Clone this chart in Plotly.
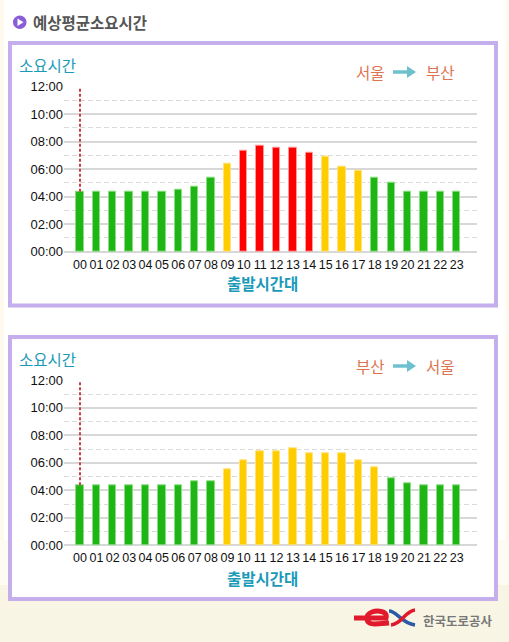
import plotly.graph_objects as go

W, H = 509, 642

hour_labels = [f"{h:02d}" for h in range(24)]
y_ticks = [0, 2, 4, 6, 8, 10, 12]
y_tick_labels = ["00:00", "02:00", "04:00", "06:00", "08:00", "10:00", "12:00"]
y_minor = [1, 3, 5, 7, 9, 11]

seoul_busan = [4.36, 4.36, 4.36, 4.36, 4.36, 4.36, 4.53, 4.70, 5.36, 6.38, 7.38, 7.68,
               7.54, 7.54, 7.20, 6.88, 6.20, 5.87, 5.36, 5.04, 4.36, 4.36, 4.36, 4.36]
busan_seoul = [4.36, 4.36, 4.36, 4.36, 4.36, 4.36, 4.36, 4.68, 4.68, 5.52, 6.20, 6.86,
               6.86, 7.03, 6.68, 6.68, 6.68, 6.20, 5.69, 4.87, 4.53, 4.36, 4.36, 4.36]

GREEN, YELLOW, RED = "#1fb514", "#ffcc00", "#ff0000"
EDGE = {GREEN: "#86e07e", YELLOW: "#ffe27a", RED: "#ff9a9a"}
PURPLE = "#c4aeeb"
TEAL = "#1b9ab8"
ORANGE = "#dd7350"
GRID = "#d8d8d8"
KR = "Noto Sans CJK KR"
LATIN = "Liberation Sans"


def level(v):
    return GREEN if v < 5.4 else YELLOW if v < 7.1 else RED


def px(x):
    return x / W


def py(y):
    return 1 - y / H


def path(points_cmds):
    # Builds an SVG path in paper units from (command, x, y, ...) tuples in page pixels
    out = []
    for cmd, *vals in points_cmds:
        pairs = [f"{px(vals[i]):.5f},{py(vals[i + 1]):.5f}" for i in range(0, len(vals), 2)]
        out.append(cmd + " " + " ".join(pairs))
    return " ".join(out)


def band(x0, y0, x1, y1, color):
    return dict(type="rect", xref="paper", yref="paper", x0=px(x0), x1=px(x1), y0=py(y0), y1=py(y1),
                fillcolor=color, line_width=0, layer="below")


def panel(top, bottom):
    return dict(type="rect", xref="paper", yref="paper", x0=px(10), x1=px(496), y0=py(top), y1=py(bottom),
                fillcolor="white", line=dict(color=PURPLE, width=4), layer="below")


def label(x, y, text, size, color, anchor="center", family=KR):
    return dict(xref="paper", yref="paper", x=px(x), y=py(y), text=text, showarrow=False, xanchor=anchor,
                yanchor="middle", font=dict(family=family, size=size, color=color))


def arrow(y):
    return [
        dict(type="line", xref="paper", yref="paper", x0=px(393), x1=px(410), y0=py(y), y1=py(y),
             line=dict(color="#6fc0cf", width=3.5)),
        dict(type="path", xref="paper", yref="paper", fillcolor="#6fc0cf", line_width=0,
             path=path([("M", 407, y - 6), ("L", 416, y), ("L", 407, y + 6)]) + " Z"),
    ]


fig = go.Figure()

charts = [
    dict(values=seoul_busan, x="x", y="y", top=86.7, bottom=251.7),
    dict(values=busan_seoul, x="x2", y="y2", top=380.3, bottom=545.3),
]

for chart in charts:
    colors = [level(v) for v in chart["values"]]
    fig.add_trace(go.Bar(
        x=list(range(24)), y=chart["values"], xaxis=chart["x"], yaxis=chart["y"], width=0.45,
        marker=dict(color=colors, line=dict(color=[EDGE[c] for c in colors], width=1)),
        showlegend=False,
    ))
    # Red dotted marker rising from the first bar to the top of the scale
    fig.add_trace(go.Scatter(
        x=[0, 0], y=[chart["values"][0], 12], xaxis=chart["x"], yaxis=chart["y"], mode="lines",
        line=dict(color="#cc3f4a", width=2, dash="3px,2px"), showlegend=False,
    ))

layout_axes = {}
for suffix, chart in zip(["", "2"], charts):
    y_name = "y" + suffix
    layout_axes["xaxis" + suffix] = dict(
        domain=[px(64), px(477)], range=[-0.977, 24.24], anchor=y_name, tickmode="array",
        tickvals=list(range(24)), ticktext=hour_labels, showgrid=False, zeroline=False,
        showline=False, ticks="outside", ticklen=1, tickcolor="rgba(0,0,0,0)", tickangle=0,
        tickfont=dict(family=LATIN, size=12.5, color="#111111"),
    )
    layout_axes["yaxis" + suffix] = dict(
        domain=[py(chart["bottom"]), py(chart["top"])], range=[0, 12], anchor="x" + suffix,
        tickmode="array", tickvals=y_ticks, ticktext=y_tick_labels, showline=False,
        zeroline=True, zerolinecolor=GRID, zerolinewidth=1.5,
        showgrid=True, gridcolor=GRID, gridwidth=1.5, ticks="",
        tickfont=dict(family=LATIN, size=13, color="#111111"),
        minor=dict(tickmode="array", tickvals=y_minor, showgrid=True, gridcolor="#dadada",
                   griddash="5px,3px", gridwidth=1, ticks=""),
    )

shapes = [
    band(0, 0, 4, 642, "#fdf9ec"),
    band(505, 0, 509, 642, "#fdfaf0"),
    band(0, 540, 509, 585, "#fdfbf2"),
    band(0, 585, 509, 642, "#f8f5e4"),
    panel(43, 305.5),
    panel(337, 599),
    # Heading bullet
    dict(type="circle", xref="paper", yref="paper", x0=px(13), x1=px(26.5), y0=py(15.5), y1=py(29),
         fillcolor="#8a5cd8", line_width=0),
    dict(type="path", xref="paper", yref="paper", fillcolor="white", line_width=0,
         path=path([("M", 17.5, 18.5), ("L", 23.5, 22.2), ("L", 17.5, 26)]) + " Z"),
    # Corporate mark
    dict(type="path", xref="paper", yref="paper", line=dict(color="#e01a2c", width=5), fillcolor="rgba(0,0,0,0)",
         path=path([("M", 354, 618), ("L", 386, 618), ("C", 388, 610, 376, 610.5, 372, 612),
                    ("C", 364, 615, 365, 624, 375, 624), ("L", 389, 623)])),
    dict(type="path", xref="paper", yref="paper", line=dict(color="#2a5aa8", width=3.5), fillcolor="rgba(0,0,0,0)",
         path=path([("M", 389, 611), ("C", 397, 611, 401, 623, 415, 625)])),
    dict(type="path", xref="paper", yref="paper", line=dict(color="#e01a2c", width=3.5), fillcolor="rgba(0,0,0,0)",
         path=path([("M", 391, 625), ("C", 402, 624, 405, 611, 415, 610)])),
] + arrow(72) + arrow(366)

annotations = [
    label(31, 22, "<b>예상평균소요시간</b>", 15.5, "#555555", "left"),
    label(17, 65, "소요시간", 15.5, TEAL, "left"),
    label(17, 359, "소요시간", 15.5, TEAL, "left"),
    label(262, 283, "<b>출발시간대</b>", 15.5, TEAL),
    label(262, 578, "<b>출발시간대</b>", 15.5, TEAL),
    label(370, 72, "서울", 15.5, ORANGE),
    label(440, 72, "부산", 15.5, ORANGE),
    label(370, 366, "부산", 15.5, ORANGE),
    label(440, 366, "서울", 15.5, ORANGE),
    label(421, 620, "<b>한국도로공사</b>", 12.5, "#777777", "left"),
]

fig.update_layout(
    width=W, height=H, margin=dict(l=0, r=0, t=0, b=0, autoexpand=False),
    paper_bgcolor="white", plot_bgcolor="rgba(0,0,0,0)", bargap=0, showlegend=False,
    shapes=shapes, annotations=annotations, **layout_axes,
)

fig.write_html("out.html", config=dict(displayModeBar=False))
